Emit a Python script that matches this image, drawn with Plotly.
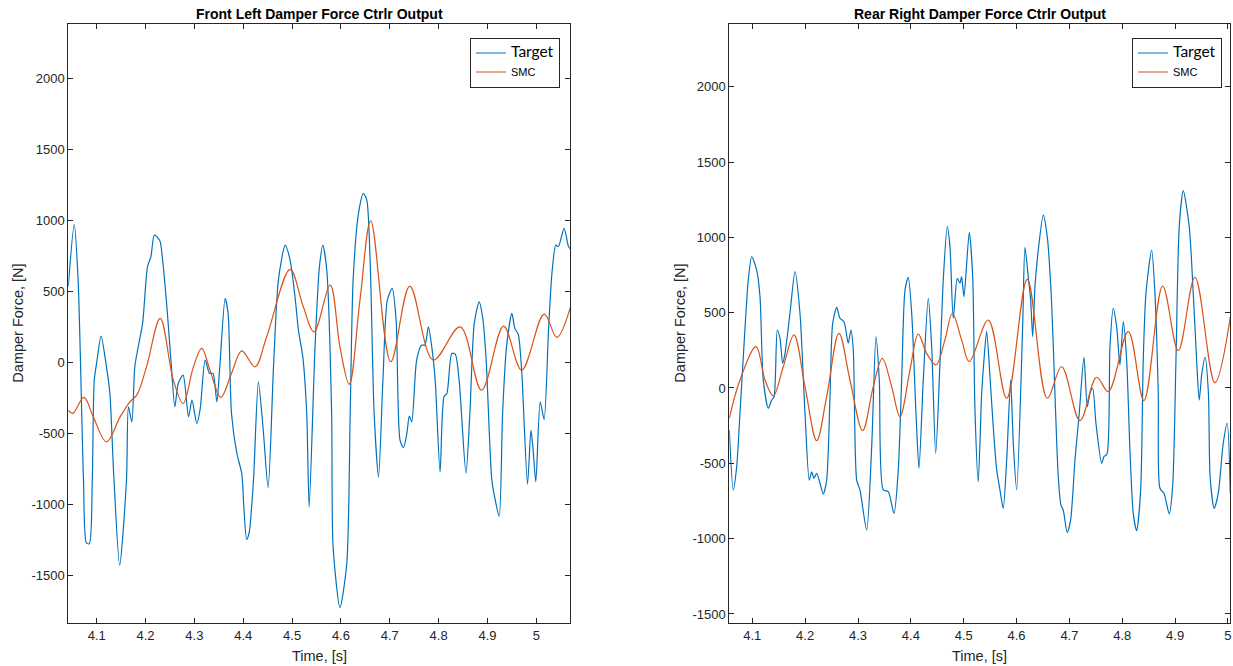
import plotly.graph_objects as go

# ---------------- data ----------------
titles = ["Front Left Damper Force Ctrlr Output", "Rear Right Damper Force Ctrlr Output"]
series_names = ["Target", "SMC"]
x_label = "Time, [s]"
y_label = "Damper Force, [N]"

x_tick_vals = [4.1, 4.2, 4.3, 4.4, 4.5, 4.6, 4.7, 4.8, 4.9, 5.0]
x_tick_text = ["4.1", "4.2", "4.3", "4.4", "4.5", "4.6", "4.7", "4.8", "4.9", "5"]
y_tick_vals = [-1500, -1000, -500, 0, 500, 1000, 1500, 2000]
y_tick_text = ["-1500", "-1000", "-500", "0", "500", "1000", "1500", "2000"]

fl_x_range = [4.0419, 5.0696]
fl_y_range = [-1836, 2385]
rr_x_range = [4.0565, 5.0044]
rr_y_range = [-1562, 2416]

# Front Left - Target
fl_t_target = [4.042, 4.054, 4.062, 4.073, 4.079, 4.085, 4.091, 4.095, 4.100, 4.109, 4.120, 4.127,
               4.135, 4.147, 4.161, 4.165, 4.172, 4.178, 4.185, 4.194, 4.204, 4.211, 4.218, 4.226,
               4.230, 4.242, 4.252, 4.260, 4.267, 4.277, 4.288, 4.295, 4.305, 4.312, 4.322, 4.331,
               4.338, 4.346, 4.352, 4.363, 4.369, 4.376, 4.387, 4.397, 4.401, 4.407, 4.412, 4.421,
               4.431, 4.441, 4.451, 4.462, 4.472, 4.486, 4.496, 4.506, 4.513, 4.522, 4.530, 4.535,
               4.547, 4.556, 4.563, 4.571, 4.581, 4.584, 4.598, 4.612, 4.619, 4.625, 4.636, 4.646,
               4.653, 4.660, 4.668, 4.677, 4.686, 4.695, 4.705, 4.713, 4.721, 4.728, 4.735, 4.740,
               4.745, 4.755, 4.765, 4.772, 4.779, 4.786, 4.793, 4.803, 4.811, 4.817, 4.827, 4.834,
               4.842, 4.856, 4.864, 4.873, 4.883, 4.890, 4.897, 4.909, 4.916, 4.924, 4.931, 4.939,
               4.950, 4.956, 4.963, 4.970, 4.982, 4.989, 4.993, 4.999, 5.008, 5.016, 5.025, 5.032,
               5.040, 5.045, 5.057, 5.066, 5.070]
fl_target = [540, 974, 581, -828, -1270, -1275, -828, -124, 0, 187, -30, -215,
             -800, -1427, -828, -311, -417, -30, 111, 276, 675, 746, 899, 875,
             852, 464, 18, -311, -147, -88, -382, -264, -429, -323, 18, -76,
             -76, -276, -30, 452, 347, -358, -640, -781, -1000, -1245, -1200, -828,
             -135, -476, -880, -30, 581, 828, 722, 464, 229, 41, -358, -1016,
             111, 675, 828, 652, -358, -1298, -1725, -1415, -358, 581, 1051, 1192,
             1145, 699, -358, -805, -123, 440, 523, 300, -546, -598, -499, -377,
             -417, 18, 123, 123, 252, 111, -123, -770, -241, -217, 65, 60,
             -123, -781, -358, 276, 428, 323, 41, -828, -969, -1082, -358, 111,
             347, 241, 200, -53, -856, -476, -593, -840, -276, -400, 229, 629,
             828, 816, 946, 816, 800]

# Front Left - SMC
fl_t_smc = [4.042, 4.051, 4.074, 4.093, 4.120, 4.148, 4.168, 4.182, 4.202, 4.230, 4.257, 4.277,
            4.298, 4.315, 4.332, 4.354, 4.376, 4.397, 4.424, 4.448, 4.496, 4.523, 4.545, 4.578,
            4.598, 4.617, 4.639, 4.661, 4.702, 4.741, 4.789, 4.844, 4.888, 4.933, 4.970, 5.016,
            5.042, 5.070]
fl_smc = [-335, -358, -245, -382, -558, -382, -276, -229, -30, 311, -123, -288,
          -30, 100, -53, -245, -76, 83, -30, 182, 657, 393, 217, 546,
          111, -152, 440, 999, 6, 539, 18, 252, -194, 257, -53, 342,
          178, 393]

# Rear Right - Target
rr_t_target = [4.0565, 4.0640, 4.0705, 4.0767, 4.0860, 4.0924, 4.0989, 4.1083, 4.1146, 4.1208,
               4.1303, 4.1367, 4.1411, 4.1473, 4.1524, 4.1575, 4.1619, 4.1713, 4.1808, 4.1902,
               4.1997, 4.2078, 4.2124, 4.2167, 4.2218, 4.2281, 4.2343, 4.2407, 4.2470, 4.2521,
               4.2597, 4.2659, 4.2735, 4.2816, 4.2867, 4.2911, 4.2975, 4.3037, 4.3164, 4.3259,
               4.3340, 4.3403, 4.3478, 4.3573, 4.3681, 4.3762, 4.3826, 4.3889, 4.3951, 4.4016,
               4.4097, 4.4154, 4.4235, 4.4330, 4.4394, 4.4470, 4.4551, 4.4613, 4.4689, 4.4740,
               4.4802, 4.4878, 4.4929, 4.4961, 4.5005, 4.5105, 4.5170, 4.5213, 4.5275, 4.5340,
               4.5383, 4.5434, 4.5497, 4.5559, 4.5624, 4.5686, 4.5748, 4.5813, 4.5888, 4.5938,
               4.6002, 4.6115, 4.6159, 4.6221, 4.6267, 4.6305, 4.6348, 4.6411, 4.6505, 4.6581,
               4.6664, 4.6726, 4.6789, 4.6840, 4.6883, 4.6959, 4.7023, 4.7105, 4.7186, 4.7275,
               4.7338, 4.7389, 4.7440, 4.7502, 4.7610, 4.7653, 4.7710, 4.7767, 4.7829, 4.7894,
               4.7956, 4.8019, 4.8083, 4.8145, 4.8208, 4.8272, 4.8348, 4.8397, 4.8448, 4.8556,
               4.8618, 4.8681, 4.8713, 4.8789, 4.8889, 4.8953, 4.9016, 4.9078, 4.9154, 4.9267,
               4.9343, 4.9407, 4.9456, 4.9507, 4.9568, 4.9630, 4.9662, 4.9738, 4.9816, 4.9910,
               4.9986, 5.0044]
rr_target = [-279, -677, -522, -168, 385, 717, 871, 783, 606, 53,
             -135, -80, -60, 385, 330, 164, 230, 496, 772, 496,
             -168, -611, -556, -599, -566, -633, -704, -611, -58, 429,
             535, 463, 440, 297, 385, 252, -611, -677, -943, -390,
             341, 53, -677, -688, -832, -544, 53, 650, 735, 496,
             -168, -533, 53, 595, 274, -434, 164, 717, 1071, 938,
             463, 728, 695, 739, 606, 1031, 739, -146, -622, -35,
             186, 374, 75, -257, -544, -677, -799, -478, 53, -367,
             -677, 407, 934, 739, 584, 341, 672, 916, 1148, 1004,
             562, -35, -589, -777, -810, -960, -876, -478, -168, 204,
             -124, -35, -2, -234, -500, -456, -440, 274, 529, 407,
             153, 440, 186, -412, -832, -947, -677, 186, 628, 916,
             628, -35, -666, -699, -836, -655, 186, 1071, 1310, 1071,
             628, 186, -80, 100, 204, -35, -589, -799, -699, -367,
             -234, -700]

# Rear Right - SMC
rr_t_smc = [4.0565, 4.0767, 4.1070, 4.1240, 4.1397, 4.1586, 4.1789, 4.1997, 4.2218, 4.2407,
            4.2640, 4.2848, 4.3088, 4.3289, 4.3459, 4.3637, 4.3794, 4.3983, 4.4140, 4.4299,
            4.4475, 4.4645, 4.4784, 4.4961, 4.5105, 4.5465, 4.5813, 4.6202, 4.6581, 4.6853,
            4.7199, 4.7515, 4.7735, 4.8113, 4.8410, 4.8764, 4.9059, 4.9375, 4.9753, 5.0044]
rr_smc = [-201, 53, 274, 53, -53, 141, 352, 9, -350, -58,
          363, 53, -283, 9, 197, 9, -190, 119, 358, 230,
          153, 319, 496, 319, 175, 451, -68, 721, -68, 141,
          -217, 71, -24, 374, -84, 677, 248, 735, 35, 470]

# ---------------- styling ----------------
W, H = 1233, 666
BLUE = "#0072BD"
ORANGE = "#D95319"
AX = "#262626"
FONT = "Liberation Sans, Arial, Helvetica, sans-serif"

left_px = (68.3, 570.3)
right_px = (729.3, 1230.3)
top_px, bot_px = 24.0, 623.3

def xdom(px):
    return [px[0] / W, px[1] / W]

ydom = [1 - bot_px / H, 1 - top_px / H]

fig = go.Figure()

legend_names = [
    '<span style="font-family:Lato;font-size:15.5px">Target</span>',
    '<span style="font-size:11px">SMC</span>',
]

panels = [
    ("x", "y", "legend", fl_t_target, fl_target, fl_t_smc, fl_smc),
    ("x2", "y2", "legend2", rr_t_target, rr_target, rr_t_smc, rr_smc),
]
for xa, ya, lg, tt, yt, ts, ys in panels:
    fig.add_trace(go.Scatter(x=tt, y=yt, mode="lines", name=legend_names[0],
                             line=dict(color=BLUE, width=1.2, shape="spline", smoothing=0.7),
                             xaxis=xa, yaxis=ya, legend=lg))
    fig.add_trace(go.Scatter(x=ts, y=ys, mode="lines", name=legend_names[1],
                             line=dict(color=ORANGE, width=1.2, shape="spline", smoothing=1.0),
                             xaxis=xa, yaxis=ya, legend=lg))

axis_common = dict(
    showline=True, linecolor=AX, linewidth=1, mirror="ticks",
    ticks="inside", ticklen=5, tickcolor=AX, tickwidth=1,
    showgrid=False, zeroline=False,
    tickfont=dict(family=FONT, size=13, color=AX),
)

fig.update_layout(
    width=W, height=H,
    margin=dict(l=0, r=0, t=0, b=0),
    paper_bgcolor="white", plot_bgcolor="white",
    xaxis=dict(domain=xdom(left_px), range=fl_x_range, anchor="y",
               tickvals=x_tick_vals, ticktext=x_tick_text, **axis_common),
    yaxis=dict(domain=ydom, range=fl_y_range, anchor="x",
               tickvals=y_tick_vals, ticktext=y_tick_text, **axis_common),
    xaxis2=dict(domain=xdom(right_px), range=rr_x_range, anchor="y2",
                tickvals=x_tick_vals, ticktext=x_tick_text, **axis_common),
    yaxis2=dict(domain=ydom, range=rr_y_range, anchor="x2",
                tickvals=y_tick_vals, ticktext=y_tick_text, **axis_common),
    legend=dict(x=560 / W, xanchor="right", y=1 - 37.5 / H, yanchor="top",
                bgcolor="white", bordercolor=AX, borderwidth=1,
                font=dict(family=FONT, size=11, color="#000000"),
                tracegroupgap=0, itemwidth=30),
    legend2=dict(x=1222 / W, xanchor="right", y=1 - 37.5 / H, yanchor="top",
                 bgcolor="white", bordercolor=AX, borderwidth=1,
                 font=dict(family=FONT, size=11, color="#000000"),
                 tracegroupgap=0, itemwidth=30),
    showlegend=True,
)

def ann(text, x, y, size, bold=False, angle=0):
    fig.add_annotation(
        text=("<b>%s</b>" % text) if bold else text,
        x=x / W, y=1 - y / H, xref="paper", yref="paper",
        xanchor="center", yanchor="middle", showarrow=False, textangle=angle,
        font=dict(family=FONT, size=size, color="#000000" if bold else AX),
    )

# subplot titles
ann(titles[0], (left_px[0] + left_px[1]) / 2, 14, 14, bold=True)
ann(titles[1], (right_px[0] + right_px[1]) / 2, 14, 14, bold=True)
# axis titles
ann(x_label, (left_px[0] + left_px[1]) / 2, 656, 14.5)
ann(x_label, (right_px[0] + right_px[1]) / 2, 656, 14.5)
ann(y_label, 18, (top_px + bot_px) / 2, 14.5, angle=-90)
ann(y_label, 680, (top_px + bot_px) / 2, 14.5, angle=-90)

# remove the default page margin so the figure fills the window exactly
fig.write_html("out.html", config={"displayModeBar": False},
               post_script="document.body.style.margin='0';document.body.style.overflow='hidden';")
